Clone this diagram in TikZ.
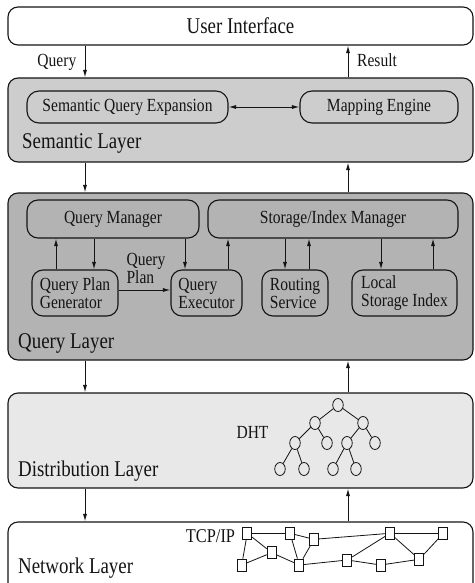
\documentclass[tikz,border=0pt]{standalone}
\usepackage{fontspec}
\setmainfont{Liberation Serif}[FakeStretch=0.84]
\usetikzlibrary{arrows.meta,shapes.geometric}
\definecolor{semfill}{RGB}{205,205,205}
\definecolor{qryfill}{RGB}{179,179,179}
\definecolor{dstfill}{RGB}{232,232,232}
\definecolor{ink}{RGB}{20,20,20}
\newcommand{\bigtxt}{\fontsize{22.5}{24}\selectfont}
\newcommand{\midtxt}{\fontsize{18.5}{19}\selectfont}
\newcommand{\twoline}{\fontsize{18.5}{18}\selectfont}
\begin{document}
\begin{tikzpicture}[x=1pt,y=-1pt,
  every node/.style={text=ink},
  layer/.style={draw=ink, line width=1.1pt, rounded corners=10pt,
    minimum width=465pt, inner sep=0pt},
  comp/.style={draw=ink, line width=1.1pt, rounded corners=11pt,
    inner sep=0pt, font=\midtxt, align=left},
  lbl/.style={font=\bigtxt, anchor=base west, inner sep=0pt},
  small/.style={font=\midtxt, inner sep=0pt},
  arr/.style={draw=ink, line width=0.9pt, -{Latex[length=7.5pt,width=4pt]}},
  darr/.style={draw=ink, line width=0.9pt, {Latex[length=7.5pt,width=4pt]}-{Latex[length=7.5pt,width=4pt]}},
  tnode/.style={ellipse, draw=ink, line width=0.8pt, fill=dstfill,
    minimum width=10.5pt, minimum height=13pt, inner sep=0pt},
  hnode/.style={rectangle, draw=ink, line width=0.8pt, fill=white,
    minimum width=9pt, minimum height=12pt, inner sep=0pt},
  link/.style={draw=ink, line width=0.8pt}]
\useasboundingbox (0,0) rectangle (474,583);
\clip (0,0) rectangle (474,583);

% column positions of the vertical data flow
\coordinate (lx) at (85,0);
\coordinate (rx) at (348,0);

% ---------- layers ----------
\node[layer, minimum height=38pt, font=\bigtxt] (ui) at (240.5,26) {User Interface};
\node[layer, minimum height=84pt, fill=semfill] (sem) at (240.5,120) {};
\node[layer, minimum height=167pt, fill=qryfill] (ql) at (240.5,276.5) {};
\node[layer, minimum height=95pt, fill=dstfill] (dl) at (240.5,440.5) {};
\node[layer, minimum height=100pt, fill=white] (nl) at (240.5,572) {};

\node[lbl] (semlbl) at (22,148) {Semantic Layer};
\node[lbl] (qllbl) at (18,348) {Query Layer};
\node[lbl] (dllbl) at (18,476.5) {Distribution Layer};
\node[lbl] (nllbl) at (18,573) {Network Layer};

% ---------- flow between layers ----------
\draw[arr] (ui.south -| lx) -- (sem.north -| lx);
\draw[arr] (sem.north -| rx) -- (ui.south -| rx);
\node[small, anchor=base east] (qlab) at (76.5,67) {Query};
\node[small, anchor=base west] (rlab) at (357,67) {Result};

\draw[arr] (sem.south -| lx) -- (ql.north -| lx);
\draw[arr] (ql.north -| rx) -- (sem.south -| rx);
\draw[arr] (ql.south -| lx) -- (dl.north -| lx);
\draw[arr] (dl.north -| rx) -- (ql.south -| rx);
\draw[arr] (dl.south -| lx) -- (nl.north -| lx);
\draw[arr] (nl.north -| rx) -- (dl.south -| rx);

% ---------- semantic layer ----------
\node[comp, minimum width=201pt, minimum height=32pt, rounded corners=12pt] (sqe) at (127.5,107) {Semantic Query Expansion};
\node[comp, minimum width=158pt, minimum height=32pt, rounded corners=12pt] (me) at (379,107) {Mapping Engine};
\draw[darr] (sqe.east) -- (me.west);

% ---------- query layer ----------
\node[comp, minimum width=172pt, minimum height=38pt] (qm) at (113,219) {Query Manager};
\node[comp, minimum width=250pt, minimum height=38pt] (sim) at (333,219) {Storage/Index Manager};
\node[comp, minimum width=86pt, minimum height=46pt, font=\twoline] (qpg) at (75,293) {Query Plan\\Generator};
\node[comp, minimum width=71pt, minimum height=46pt, font=\twoline] (qe) at (206.5,293) {Query\\Executor};
\node[comp, minimum width=66pt, minimum height=46pt, font=\twoline] (rs) at (295,293) {Routing\\Service};
\node[comp, minimum width=105pt, minimum height=46pt, font=\twoline] (lsi) at (404.5,293) {Local\\Storage Index};

\draw[arr] ([xshift=-19pt]qpg.north) -- ([xshift=-19pt]qpg.north |- qm.south);
\draw[arr] ([xshift=19pt]qpg.north |- qm.south) -- ([xshift=19pt]qpg.north);
\draw[arr] ([xshift=-21.5pt]qe.north |- qm.south) -- ([xshift=-21.5pt]qe.north);
\draw[arr] ([xshift=21.5pt]qe.north) -- ([xshift=21.5pt]qe.north |- sim.south);
\draw[arr] ([xshift=-10pt]rs.north |- sim.south) -- ([xshift=-10pt]rs.north);
\draw[arr] ([xshift=14pt]rs.north) -- ([xshift=14pt]rs.north |- sim.south);
\draw[arr] ([xshift=-23.5pt]lsi.north |- sim.south) -- ([xshift=-23.5pt]lsi.north);
\draw[arr] ([xshift=28.5pt]lsi.north) -- ([xshift=28.5pt]lsi.north |- sim.south);
\draw[arr] ([yshift=3pt]qpg.east) -- ([yshift=3pt]qpg.east -| qe.west);
\node[small, align=left, font=\twoline] (qplan) at (146,268) {Query\\Plan};

% ---------- distribution layer: DHT ----------
\node[small, font=\fontsize{18.5}{19}\selectfont] (dht) at (252.5,432) {DHT};
\node[tnode] (t0) at (338,405) {};
\node[tnode] (t1) at (315,423) {};
\node[tnode] (t2) at (363,423) {};
\node[tnode] (t3) at (295,443) {};
\node[tnode] (t4) at (327,443) {};
\node[tnode] (t5) at (347,443) {};
\node[tnode] (t6) at (375,443) {};
\node[tnode] (t7) at (280,469) {};
\node[tnode] (t8) at (304,469) {};
\node[tnode] (t9) at (333,469) {};
\node[tnode] (t10) at (356,469) {};
\foreach \a/\b in {t0/t1,t0/t2,t1/t3,t1/t4,t2/t5,t2/t6,t3/t7,t3/t8,t5/t9,t5/t10}
  \draw[link] (\a) -- (\b);

% ---------- network layer: TCP/IP ----------
\node[small, font=\fontsize{19.5}{20}\selectfont] (tcp) at (210.5,536) {TCP/IP};
\node[hnode] (na) at (247.3,533.3) {};
\node[hnode] (nb) at (290,533.3) {};
\node[hnode] (nc) at (314,539.3) {};
\node[hnode] (nd) at (390,533.3) {};
\node[hnode] (ne) at (443.3,533.3) {};
\node[hnode] (nf) at (271.7,552.7) {};
\node[hnode] (ng) at (241.7,565) {};
\node[hnode] (nh) at (299.3,565) {};
\node[hnode] (ni) at (347.3,560) {};
\node[hnode] (nj) at (380.7,565) {};
\node[hnode] (nk) at (419.3,559.3) {};
\foreach \a/\b in {na/nb,na/nf,na/ng,nf/ng,nf/nh,nb/nh,nb/nc,nc/nh,nc/nd,nd/ne,nd/ni,nh/ni,ni/nj,nj/nk,nd/nk,ne/nk}
  \draw[link] (\a) -- (\b);
\end{tikzpicture}
\end{document}
